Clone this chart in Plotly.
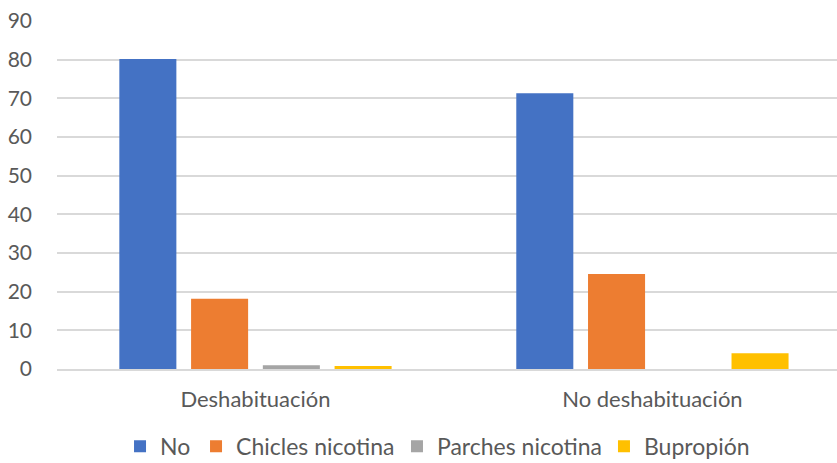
import plotly.graph_objects as go

categories = ["Deshabituación", "No deshabituación"]
series_names = ["No", "Chicles nicotina", "Parches nicotina", "Bupropión"]
no_vals = [80.2, 71.3]
chicles_vals = [18.2, 24.6]
parches_vals = [1.0, 0.0]
bupropion_vals = [0.8, 4.1]
y_ticks = [0, 10, 20, 30, 40, 50, 60, 70, 80, 90]

colors = ["#4472C4", "#ED7D31", "#A5A5A5", "#FFC000"]
all_vals = [no_vals, chicles_vals, parches_vals, bupropion_vals]
legend_ids = ["legend", "legend2", "legend3", "legend4"]
legend_x = [0.1434, 0.2342, 0.4743, 0.7216]

fig = go.Figure()
for name, vals, c, lg in zip(series_names, all_vals, colors, legend_ids):
    fig.add_trace(go.Bar(x=categories, y=vals, name=name, legend=lg,
                         marker=dict(color=c, line=dict(width=0))))

font_family = "Lato, Open Sans, sans-serif"
legend_common = dict(orientation="h", xanchor="left", xref="container", yref="paper",
                     y=-0.222, yanchor="middle", font=dict(size=23, color="#595959"),
                     itemwidth=30, bgcolor="rgba(0,0,0,0)", borderwidth=0)
layout_legends = {}
for lg, lx in zip(legend_ids, legend_x):
    layout_legends[lg] = dict(legend_common, x=lx)

fig.update_layout(
    width=837, height=463,
    margin=dict(l=57, r=0, t=21, b=94, autoexpand=False),
    paper_bgcolor="white", plot_bgcolor="white",
    barmode="group", bargap=0.277, bargroupgap=0.205,
    font=dict(family=font_family, size=22, color="#595959"),
    showlegend=True,
    xaxis=dict(type="category", range=[-0.5, 1.465], showgrid=False, showline=True,
               linecolor="#D9D9D9", linewidth=1.5, ticks="", ticklabelstandoff=10,
               tickfont=dict(size=22, color="#595959")),
    yaxis=dict(range=[0, 90], tickvals=y_ticks, showgrid=True, gridcolor="#D9D9D9",
               gridwidth=1.5, zeroline=False, showline=False, ticks="",
               ticklabelstandoff=24, tickfont=dict(size=21, color="#595959")),
    **layout_legends,
)

fig.write_html("out.html")
